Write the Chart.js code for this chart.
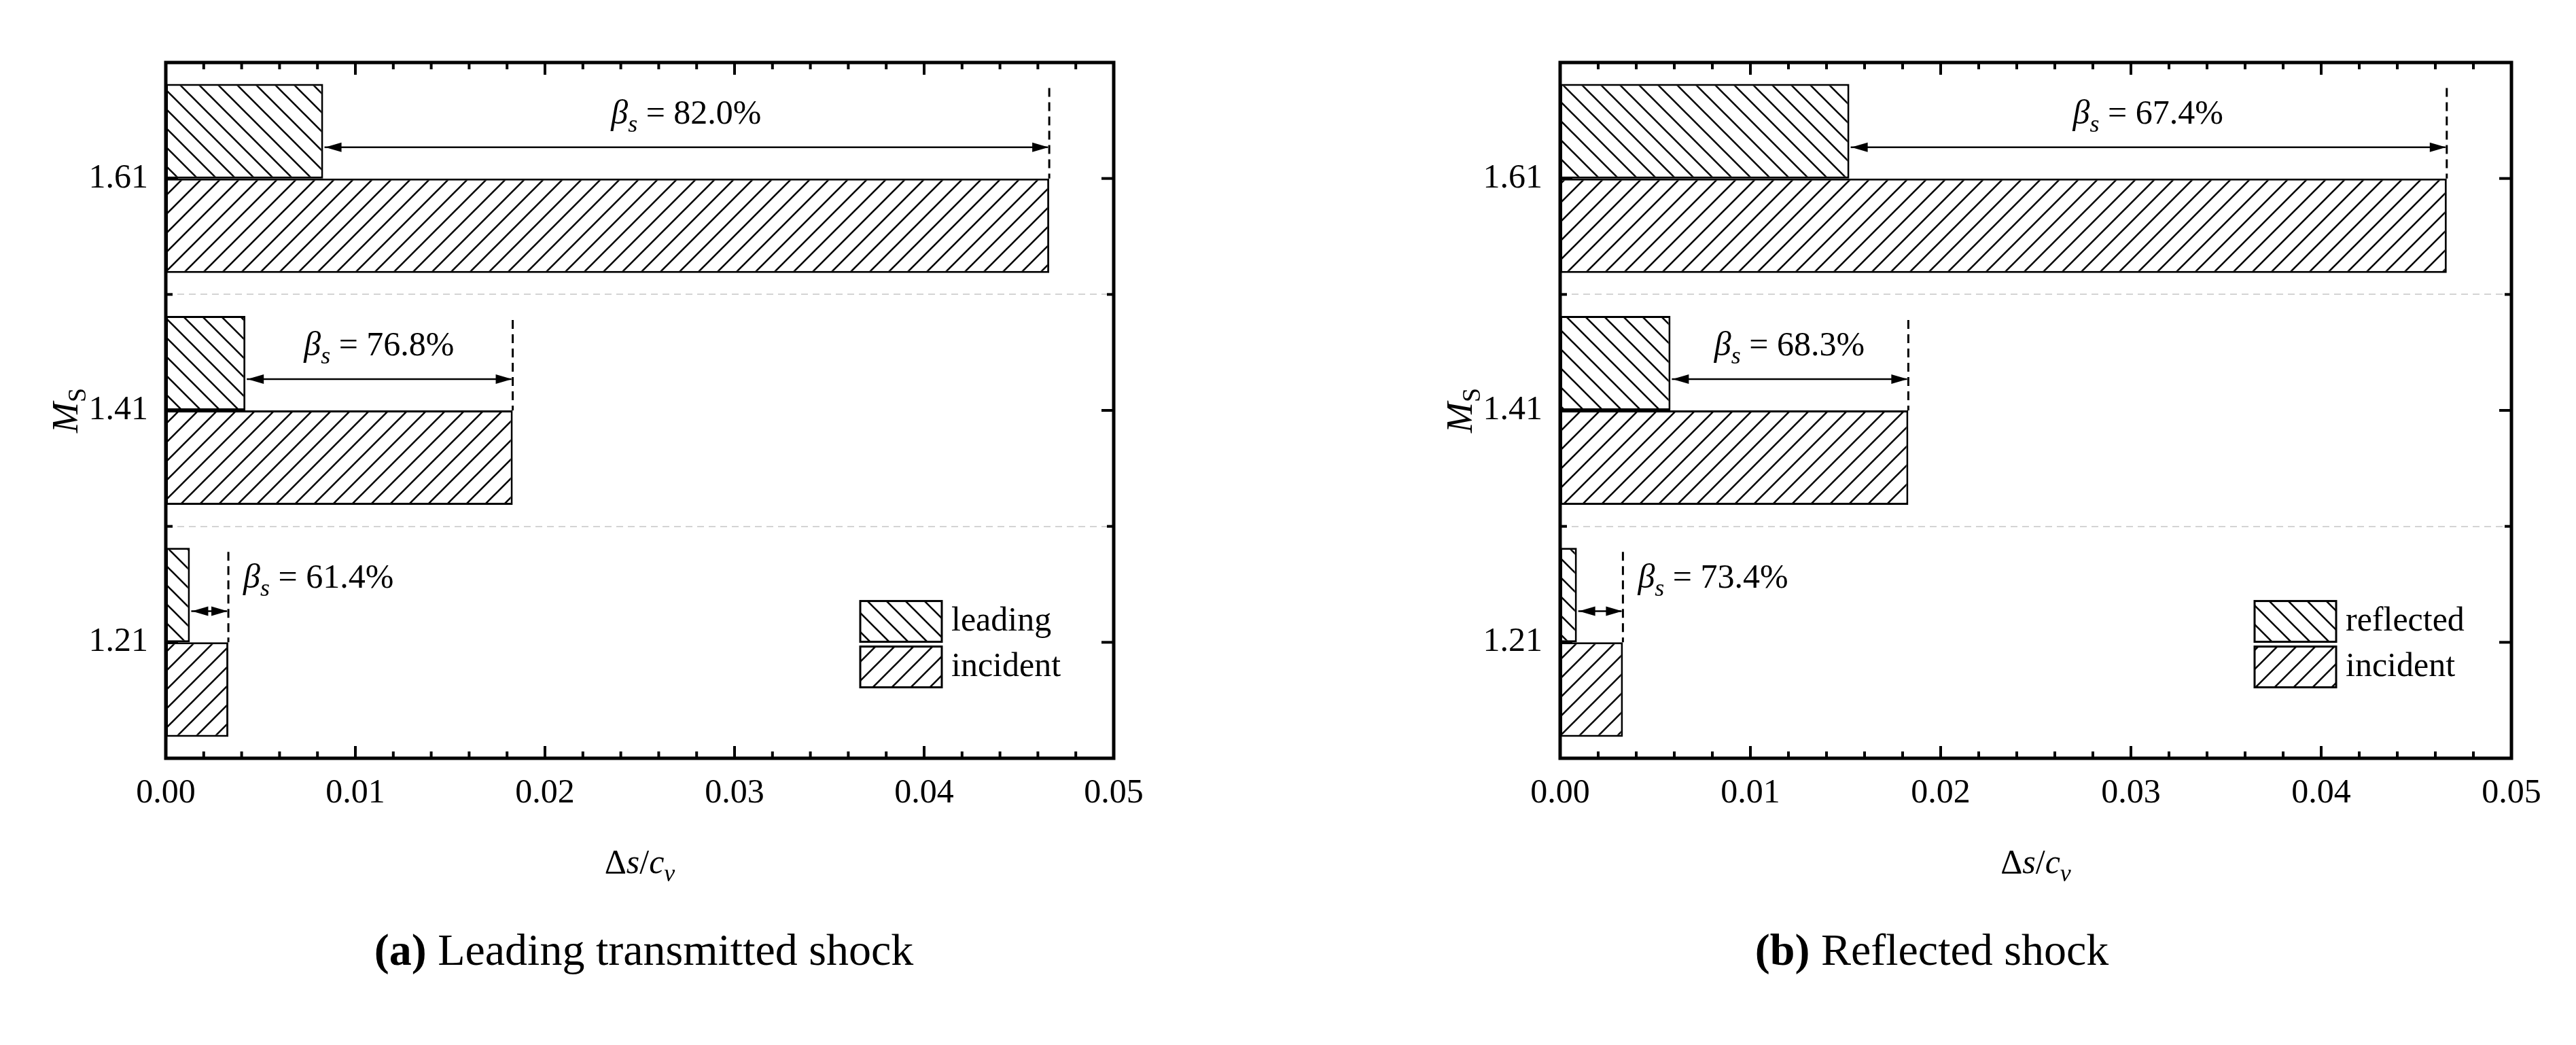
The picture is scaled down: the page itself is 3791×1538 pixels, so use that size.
<!DOCTYPE html>
<html>
<head>
<meta charset="utf-8">
<script src="https://cdn.jsdelivr.net/npm/chart.js@4.4.1/dist/chart.umd.min.js"></script>
<style>
  body { margin: 0; background: #fff; width: 3791px; height: 1538px; position: relative; overflow: hidden; }
  canvas { position: absolute; top: 0; }
  .cap { position: absolute; top: 1360px; font: 66px "Liberation Serif", serif; color: #000; text-align: center; }
</style>
</head>
<body>
<canvas id="chartA" width="1895" height="1538" style="left:0"></canvas>
<canvas id="chartB" width="1896" height="1538" style="left:1895px"></canvas>
<div class="cap" style="left:0;width:1895px"><b>(a)</b> Leading transmitted shock</div>
<div class="cap" style="left:1895px;width:1896px"><b>(b)</b> Reflected shock</div>
<script>
const categories = ['1.61', '1.41', '1.21'];
const incident = [0.0466, 0.0183, 0.0033];
const leading = [0.0083, 0.0042, 0.00127];
const reflected = [0.0152, 0.0058, 0.00088];
const betaA = ['82.0%', '76.8%', '61.4%'];
const betaB = ['67.4%', '68.3%', '73.4%'];
const xTicks = [0, 0.01, 0.02, 0.03, 0.04, 0.05];

const FONT = '"Liberation Serif", serif';

function hatch(dir) {
  const s = 28, c = document.createElement('canvas');
  c.width = s; c.height = s;
  const g = c.getContext('2d');
  g.fillStyle = '#fff'; g.fillRect(0, 0, s, s);
  g.strokeStyle = '#000'; g.lineWidth = 2.6;
  g.beginPath();
  if (dir === '/') {
    g.moveTo(-2, s + 2); g.lineTo(s + 2, -2);
    g.moveTo(-2, 2); g.lineTo(2, -2);
    g.moveTo(s - 2, s + 2); g.lineTo(s + 2, s - 2);
  } else {
    g.moveTo(-2, -2); g.lineTo(s + 2, s + 2);
    g.moveTo(s - 2, -2); g.lineTo(s + 2, 2);
    g.moveTo(-2, s - 2); g.lineTo(2, s + 2);
  }
  g.stroke();
  return g.createPattern(c, 'repeat');
}

function arrowHead(ctx, x, y, dir) {
  ctx.beginPath();
  ctx.moveTo(x, y);
  ctx.lineTo(x - dir * 24, y - 7);
  ctx.lineTo(x - dir * 24, y + 7);
  ctx.closePath();
  ctx.fill();
}

function betaLabel(ctx, x, y, txt, align) {
  ctx.save();
  ctx.fillStyle = '#000';
  ctx.textBaseline = 'alphabetic';
  ctx.font = 'italic 50px ' + FONT;
  const wB = ctx.measureText('β').width;
  ctx.font = 'italic 36px ' + FONT;
  const wS = ctx.measureText('s').width;
  ctx.font = '50px ' + FONT;
  const rest = ' = ' + txt;
  const wR = ctx.measureText(rest).width;
  const total = wB + wS + wR;
  let x0 = align === 'center' ? x - total / 2 : x;
  ctx.textAlign = 'left';
  ctx.font = 'italic 50px ' + FONT;
  ctx.fillText('β', x0, y);
  ctx.font = 'italic 36px ' + FONT;
  ctx.fillText('s', x0 + wB, y + 12);
  ctx.font = '50px ' + FONT;
  ctx.fillText(rest, x0 + wB + wS, y);
  ctx.restore();
}

function framePlugin(betas, legendNames) {
  return {
    id: 'frame',
    afterDatasetsDraw(chart) {
      const ctx = chart.ctx, a = chart.chartArea;
      const xs = chart.scales.x, ys = chart.scales.y;
      ctx.save();
      ctx.strokeStyle = '#000'; ctx.fillStyle = '#000';

      // annotations: dashed line, arrow, beta label
      const m0 = chart.getDatasetMeta(0), m1 = chart.getDatasetMeta(1);
      for (let i = 0; i < categories.length; i++) {
        const top = m0.data[i], inc = m1.data[i];
        const xi = xs.getPixelForValue(chart.data.datasets[1].data[i]);
        const xl = xs.getPixelForValue(chart.data.datasets[0].data[i]);
        const h = top.height;
        const yTop = top.y - h / 2;
        const yArr = yTop + 0.67 * h;
        ctx.lineWidth = 3;
        ctx.setLineDash([13, 8]);
        ctx.beginPath(); ctx.moveTo(xi, yTop + 6); ctx.lineTo(xi, inc.y - h / 2); ctx.stroke();
        ctx.setLineDash([]);
        ctx.lineWidth = 2.5;
        ctx.beginPath(); ctx.moveTo(xl + 2, yArr); ctx.lineTo(xi - 2, yArr); ctx.stroke();
        arrowHead(ctx, xi - 1, yArr, 1);
        arrowHead(ctx, xl + 3, yArr, -1);
        if (xi - xl > 250) betaLabel(ctx, (xl + xi) / 2, yTop + 0.42 * h, betas[i], 'center');
        else betaLabel(ctx, xi + 22, yTop + 0.42 * h, betas[i], 'left');
      }

      // ticks
      ctx.lineWidth = 4;
      for (let v = 0; v <= 0.05 + 1e-9; v += 0.002) {
        const px = xs.getPixelForValue(v);
        const major = Math.abs(v / 0.01 - Math.round(v / 0.01)) < 1e-6;
        const len = major ? 18 : 10;
        ctx.beginPath(); ctx.moveTo(px, a.bottom); ctx.lineTo(px, a.bottom - len); ctx.stroke();
        ctx.beginPath(); ctx.moveTo(px, a.top); ctx.lineTo(px, a.top + len); ctx.stroke();
      }
      for (let i = 0; i < categories.length; i++) {
        const py = ys.getPixelForValue(i);
        ctx.beginPath(); ctx.moveTo(a.left, py); ctx.lineTo(a.left + 18, py); ctx.stroke();
        ctx.beginPath(); ctx.moveTo(a.right, py); ctx.lineTo(a.right - 18, py); ctx.stroke();
        if (i > 0) {
          const pb = (py + ys.getPixelForValue(i - 1)) / 2;
          ctx.beginPath(); ctx.moveTo(a.left, pb); ctx.lineTo(a.left + 10, pb); ctx.stroke();
          ctx.beginPath(); ctx.moveTo(a.right, pb); ctx.lineTo(a.right - 10, pb); ctx.stroke();
        }
      }
      // frame
      ctx.lineWidth = 5;
      ctx.strokeRect(a.left, a.top, a.right - a.left, a.bottom - a.top);

      // legend
      const bw = 120, bh = 60, lx = a.right - (legendNames[0] === 'leading' ? 373 : 378);
      const ly = a.top + 0.774 * (a.bottom - a.top);
      [[chart.data.datasets[0].backgroundColor, legendNames[0]], [chart.data.datasets[1].backgroundColor, legendNames[1]]]
        .forEach(([pat, name], k) => {
          const y = ly + k * 67;
          ctx.fillStyle = pat; ctx.fillRect(lx, y, bw, bh);
          ctx.lineWidth = 3; ctx.strokeStyle = '#000'; ctx.strokeRect(lx, y, bw, bh);
          ctx.fillStyle = '#000'; ctx.font = '50px ' + FONT;
          ctx.textAlign = 'left'; ctx.textBaseline = 'middle';
          ctx.fillText(name, lx + bw + 14, y + bh / 2);
        });

      // axis titles
      ctx.textBaseline = 'alphabetic';
      ctx.font = '50px ' + FONT;
      const t1 = 'Δ', t2 = 's', t3 = '/', t4 = 'c', t5 = 'v';
      ctx.font = '50px ' + FONT; const w1 = ctx.measureText(t1).width, w3 = ctx.measureText(t3).width;
      ctx.font = 'italic 50px ' + FONT; const w2 = ctx.measureText(t2).width, w4 = ctx.measureText(t4).width;
      ctx.font = 'italic 36px ' + FONT; const w5 = ctx.measureText(t5).width;
      let tx = (a.left + a.right) / 2 - (w1 + w2 + w3 + w4 + w5) / 2;
      const ty = 1285;
      ctx.textAlign = 'left';
      ctx.font = '50px ' + FONT; ctx.fillText(t1, tx, ty); tx += w1;
      ctx.font = 'italic 50px ' + FONT; ctx.fillText(t2, tx, ty); tx += w2;
      ctx.font = '50px ' + FONT; ctx.fillText(t3, tx, ty); tx += w3;
      ctx.font = 'italic 50px ' + FONT; ctx.fillText(t4, tx, ty); tx += w4;
      ctx.font = 'italic 36px ' + FONT; ctx.fillText(t5, tx, ty + 12);

      ctx.translate(a.left - 148, (a.top + a.bottom) / 2);
      ctx.rotate(-Math.PI / 2);
      ctx.font = 'italic 54px ' + FONT;
      const wm = ctx.measureText('M').width;
      ctx.font = '38px ' + FONT;
      const ws = ctx.measureText('S').width;
      ctx.font = 'italic 54px ' + FONT;
      ctx.fillText('M', -(wm + ws) / 2, 18);
      ctx.font = '38px ' + FONT;
      ctx.fillText('S', -(wm + ws) / 2 + wm, 30);
      ctx.restore();
    }
  };
}

function makeChart(id, topData, topName, betas, left, right, width) {
  new Chart(document.getElementById(id), {
    type: 'bar',
    data: {
      labels: categories,
      datasets: [
        { label: topName, data: topData, backgroundColor: hatch('\\'), borderColor: '#000', borderWidth: 3, borderSkipped: false },
        { label: 'incident', data: incident, backgroundColor: hatch('/'), borderColor: '#000', borderWidth: 3, borderSkipped: false }
      ]
    },
    options: {
      indexAxis: 'y',
      responsive: false,
      animation: false,
      devicePixelRatio: 1,
      categoryPercentage: 0.815,
      barPercentage: 1,
      layout: { padding: { top: 92, right: width - right, left: 0, bottom: 0 } },
      plugins: { legend: { display: false }, tooltip: { enabled: false } },
      scales: {
        x: {
          type: 'linear', min: 0, max: 0.05,
          afterFit: s => { s.height = 1538 - 1116; },
          afterBuildTicks: s => { s.ticks = xTicks.map(v => ({ value: v })); },
          grid: { display: false, drawTicks: false },
          border: { display: false },
          ticks: { color: '#000', padding: 22, font: { family: FONT, size: 50 }, callback: v => v.toFixed(2) }
        },
        y: {
          afterFit: s => { s.width = left; },
          grid: { color: '#d4d4d4', lineWidth: 2, drawTicks: false, offset: true },
          border: { display: false, dash: [10, 7] },
          ticks: { color: '#000', padding: 26, font: { family: FONT, size: 50 } }
        }
      }
    },
    plugins: [framePlugin(betas, [topName, 'incident'])]
  });
}

makeChart('chartA', leading, 'leading', betaA, 244, 1639, 1895);
makeChart('chartB', reflected, 'reflected', betaB, 401, 1801, 1896);
</script>
</body>
</html>
